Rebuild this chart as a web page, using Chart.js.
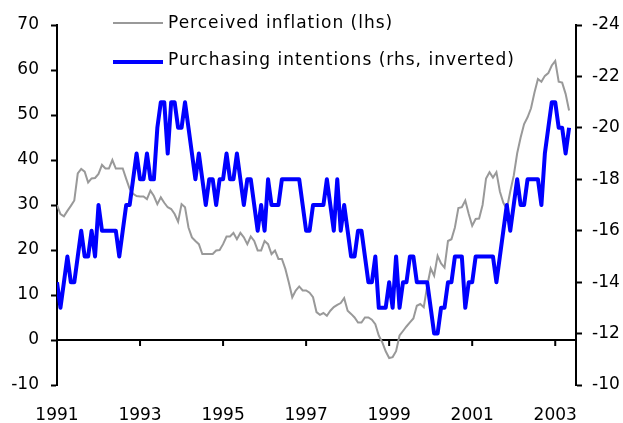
<!DOCTYPE html>
<html>
<head>
<meta charset="utf-8">
<script src="https://cdn.jsdelivr.net/npm/chart.js@4.4.1/dist/chart.umd.min.js"></script>
<style>
  html, body { margin: 0; padding: 0; background: #fff; }
  #wrap { position: relative; width: 623px; height: 423px; }
  canvas { display: block; }
  .key { position: absolute; left: 113px; height: 20px; font: 17px 'DejaVu Sans', Verdana, sans-serif;
         letter-spacing: 1px; line-height: 20px; color: #000; white-space: nowrap; }
  .key .swatch { position: absolute; left: 0; width: 50px; }
  .key .txt { position: absolute; left: 55px; top: 0; }
</style>
</head>
<body>
<div id="wrap">
  <canvas id="chart" width="623" height="423"></canvas>
  <div class="key" style="top:12px"><span class="swatch" style="top:10px;height:2px;background:#999"></span><span class="txt">Perceived inflation (lhs)</span></div>
  <div class="key" style="top:49px"><span class="swatch" style="top:11px;height:4px;background:#00f"></span><span class="txt">Purchasing intentions (rhs, inverted)</span></div>
</div>
<script>
/* ---- Data: monthly, Jan 1991 .. May 2003 ---- */
const yearLabels     = ['1991', '1993', '1995', '1997', '1999', '2001', '2003'];
const yearTickMonths = [0, 24, 48, 72, 96, 120, 144];

// Perceived inflation (lhs)
const perceived = [
  30, 28, 27.5, 28.7, 29.8, 31, 37, 38, 37.4, 35,
  35.9, 36, 36.9, 38.9, 38.1, 38.1, 40, 38.1, 38.1, 38.1,
  35.8, 33.6, 32.5, 32, 31.9, 31.9, 31.3, 33.2, 32, 30.2,
  31.7, 30.5, 29.5, 29.1, 28, 26.3, 30.2, 29.5, 25, 22.8,
  22, 21.3, 19.1, 19.1, 19.1, 19.1, 19.9, 20, 21.3, 23,
  23, 23.8, 22.4, 23.8, 22.8, 21.3, 23, 22, 19.9, 19.9,
  22, 21.3, 19.1, 19.9, 18, 18, 15.8, 12.8, 9.5, 11,
  11.9, 11, 11, 10.5, 9.5, 6.2, 5.6, 6, 5.4, 6.5,
  7.3, 7.8, 8.2, 9.3, 6.5, 5.8, 5, 3.9, 3.9, 5,
  5, 4.5, 3.5, 1, -0.5, -2.5, -4, -3.8, -2.5, 1,
  2, 3, 3.9, 4.8, 7.6, 8, 7.3, 12, 15.9, 14.3,
  18.7, 17, 16.1, 22, 22.4, 25, 29.3, 29.5, 31, 28,
  25.4, 26.9, 27, 30, 35.9, 37.3, 36.1, 37.3, 33, 30.5,
  29.1, 33, 36.5, 41.5, 45, 48, 49.5, 51.5, 55, 58,
  57.4, 58.7, 59.3, 61, 62, 57.4, 57.2, 54.7, 51
];

// Purchasing intentions (rhs, inverted)
const purchasing = [
  -14, -13, -14, -15, -14, -14, -15, -16, -15, -15,
  -16, -15, -17, -16, -16, -16, -16, -16, -15, -16,
  -17, -17, -18, -19, -18, -18, -19, -18, -18, -20,
  -21, -21, -19, -21, -21, -20, -20, -21, -20, -19,
  -18, -19, -18, -17, -18, -18, -17, -18, -18, -19,
  -18, -18, -19, -18, -17, -18, -18, -17, -16, -17,
  -16, -18, -17, -17, -17, -18, -18, -18, -18, -18,
  -18, -17, -16, -16, -17, -17, -17, -17, -18, -17,
  -16, -18, -16, -17, -16, -15, -15, -16, -16, -15,
  -14, -14, -15, -13, -13, -13, -14, -13, -15, -13,
  -14, -14, -15, -15, -14, -14, -14, -14, -13, -12,
  -12, -13, -13, -14, -14, -15, -15, -15, -13, -14,
  -14, -15, -15, -15, -15, -15, -15, -14, -15, -16,
  -17, -16, -17, -18, -17, -17, -18, -18, -18, -18,
  -17, -19, -20, -21, -21, -20, -20, -19, -20
];

const FONT = { family: "'DejaVu Sans', Verdana, sans-serif", size: 17 };

/* zero line across the plot with the year tick marks hanging from it */
const zeroAxis = {
  id: 'zeroAxis',
  beforeDatasetsDraw(chart) {
    const { ctx, scales: { x, y } } = chart;
    const y0 = y.getPixelForValue(0);
    ctx.save();
    ctx.strokeStyle = '#000';
    ctx.lineWidth = 2;
    ctx.beginPath();
    ctx.moveTo(x.left, y0);
    ctx.lineTo(x.right, y0);
    x.ticks.forEach(t => {
      const px = x.getPixelForValue(t.value);
      ctx.moveTo(px, y0);
      ctx.lineTo(px, y0 + 6);
    });
    ctx.stroke();
    ctx.restore();
  }
};

new Chart(document.getElementById('chart'), {
  type: 'line',
  data: {
    datasets: [
      {
        label: 'Purchasing intentions (rhs, inverted)',
        data: purchasing.map((v, i) => ({ x: i, y: v })),
        yAxisID: 'y1',
        borderColor: '#0000ff',
        borderWidth: 4,
        borderJoinStyle: 'round',
        pointRadius: 0,
        tension: 0,
      },
      {
        label: 'Perceived inflation (lhs)',
        data: perceived.map((v, i) => ({ x: i, y: v })),
        yAxisID: 'y',
        borderColor: '#999999',
        borderWidth: 2,
        pointRadius: 0,
        tension: 0,
      },
    ]
  },
  options: {
    responsive: false,
    animation: false,
    layout: { padding: { top: 25, left: 0, right: 0, bottom: 0 } },
    plugins: { legend: { display: false }, tooltip: { enabled: false } },
    scales: {
      x: {
        type: 'linear',
        min: 0,
        max: 150,
        grid: { display: false, drawTicks: false },
        border: { display: false },
        afterBuildTicks: s => { s.ticks = yearTickMonths.map(v => ({ value: v })); },
        afterFit: s => { s.height = 38; },
        ticks: {
          autoSkip: false,
          maxRotation: 0,
          padding: 20,
          color: '#000',
          font: FONT,
          callback: v => yearLabels[yearTickMonths.indexOf(v)],
        },
      },
      y: {
        position: 'left',
        min: -10,
        max: 70,
        afterFit: s => { s.width = 57; },
        ticks: { stepSize: 10, padding: 12, color: '#000', font: FONT },
        grid: { drawOnChartArea: false, tickLength: 6, tickColor: '#000', tickWidth: 2 },
        border: { color: '#000', width: 2 },
      },
      y1: {
        position: 'right',
        reverse: true,
        min: -24,
        max: -10,
        afterFit: s => { s.width = 47; },
        ticks: { stepSize: 2, padding: 10, color: '#000', font: FONT },
        grid: { drawOnChartArea: false, tickLength: 6, tickColor: '#000', tickWidth: 2 },
        border: { color: '#000', width: 2 },
      },
    }
  },
  plugins: [zeroAxis],
});
</script>
</body>
</html>
